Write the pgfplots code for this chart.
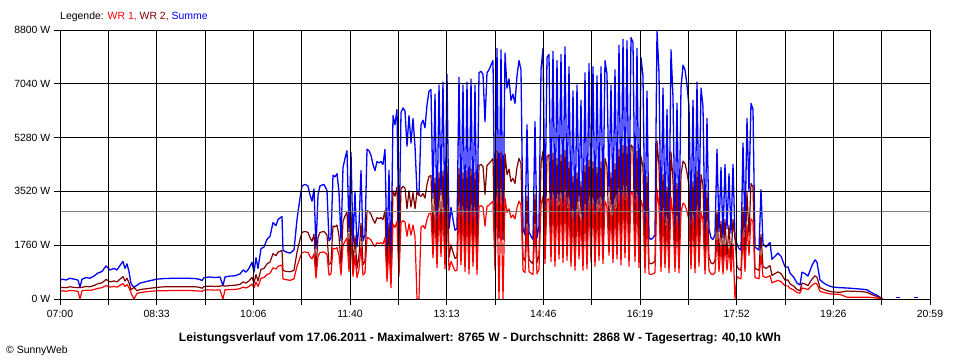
\documentclass[border=0pt]{standalone}
\usepackage{fontspec}
\setmainfont{Liberation Sans}
\usepackage{pgfplots}
\pgfplotsset{compat=1.18}
\usepackage{pgfplotstable}
\definecolor{wrone}{RGB}{255,0,0}
\definecolor{wrtwo}{RGB}{128,0,0}
\definecolor{wrsum}{RGB}{0,0,255}
\definecolor{avg}{RGB}{128,128,128}

% t = time position (axis units, 07:00 = 60, 20:59 = 930), power in W
\pgfplotstableread{
t wr1 wr2 sum
60 250 370 620
63 270 380 650
66 250 370 620
70 280 400 680
74 270 380 650
78 250 370 620
80 0 380 380
82 270 380 650
86 290 410 700
90 280 400 680
94 310 440 750
98 350 500 850
102 370 530 900
106 440 640 1080
110 390 560 950
114 410 590 1000
117 390 560 950
120 450 650 1100
123 500 730 1230
125 410 590 1000
127 470 680 1150
129 370 530 900
131 200 300 500
134 0 380 380
137 180 270 450
140 210 310 520
145 230 330 560
150 250 350 600
157 270 380 650
165 270 400 670
175 280 400 680
185 280 400 680
195 270 400 670
200 260 380 640
202 250 350 600
204 290 410 700
210 300 420 720
215 290 410 700
220 300 420 720
223 0 440 440
225 300 420 720
230 310 440 750
235 310 450 760
240 340 480 820
243 390 560 950
246 360 520 880
249 410 590 1000
252 490 710 1200
254 360 520 880
256 550 800 1350
258 410 590 1000
261 680 970 1650
264 700 1000 1700
267 800 1150 1950
270 840 1210 2050
273 1020 1480 2500
276 980 1420 2400
278 1070 1530 2600
280 1090 1560 2650
282 1110 1590 2700
283 660 940 1600
285 640 910 1550
290 610 890 1500
294 660 940 1600
297 1070 1530 2600
300 1350 1950 3300
302 1520 2180 3700
305 1540 2210 3750
308 1520 2180 3700
310 1390 2010 3400
312 1310 1890 3200
314 1480 2120 3600
316 680 970 1650
318 1390 2010 3400
320 1520 2180 3700
324 1540 2210 3750
327 1460 2090 3550
329 780 1120 1900
331 820 1180 2000
333 1660 2390 4050
335 1640 2360 4000
337 1680 2420 4100
339 1430 2070 3500
341 780 1120 1900
343 1760 2540 4300
345 1890 2710 4600
347 1990 2860 4850
349 900 1300 2200
351 1970 2830 4800
353 740 1060 1800
355 1430 2070 3500
357 700 1000 1700
359 980 1420 2400
361 1720 2480 4200
363 780 1120 1900
365 860 1240 2100
367 2010 2890 4900
369 1990 2860 4850
371 1930 2770 4700
373 1800 2600 4400
375 1720 2480 4200
377 1840 2660 4500
379 1820 2630 4450
381 1840 2660 4500
383 1800 2600 4400
385 2010 2890 4900
387 570 830 1400
389 1720 2480 4200
391 370 530 900
393 2460 3540 6000
395 2340 3360 5700
397 2540 3660 6200
399 740 1060 1800
401 2500 3600 6100
403 2560 3690 6250
405 2520 3630 6150
407 2050 2950 5000
409 2460 3540 6000
411 2090 3010 5100
413 2420 3480 5900
415 2050 2950 5000
417 0 3500 3500
419 0 3400 3400
421 2340 3360 5700
423 2400 3450 5850
425 2300 3300 5600
427 2600 3750 6350
429 2790 4010 6800
431 2810 4040 6850
433 1350 1950 3300
435 2750 3950 6700
437 1020 1480 2500
439 2870 4130 7000
441 1390 2010 3400
443 2910 4190 7100
445 980 1420 2400
447 3010 4340 7350
449 940 1360 2300
451 1230 1770 3000
453 1070 1530 2600
455 920 1330 2250
457 940 1360 2300
459 2970 4280 7250
461 1110 1590 2700
463 2870 4130 7000
465 900 1300 2200
467 2910 4190 7100
469 820 1180 2000
471 2950 4250 7200
473 1070 1530 2600
475 2870 4130 7000
477 800 1150 1950
479 3030 4370 7400
481 3050 4400 7450
483 3010 4340 7350
485 2380 3420 5800
487 3030 4370 7400
489 3070 4430 7500
491 3140 4510 7650
493 3200 4600 7800
495 940 1360 2300
497 3360 4840 8200
499 0 2000 2000
501 3340 4810 8150
503 0 1950 1950
505 3300 4750 8050
507 2830 4070 6900
509 2950 4250 7200
511 2660 3840 6500
513 2750 3950 6700
515 2620 3780 6400
517 2990 4310 7300
519 3200 4600 7800
521 3070 4430 7500
523 940 1360 2300
525 860 1240 2100
527 2340 3360 5700
529 900 1300 2200
531 840 1210 2050
533 800 1150 1950
535 2380 3420 5800
537 820 1180 2000
539 980 1420 2400
541 3070 4430 7500
543 3360 4840 8200
545 1150 1650 2800
547 3240 4660 7900
549 3280 4720 8000
551 1230 1770 3000
553 3320 4780 8100
555 1070 1530 2600
557 3200 4600 7800
559 1310 1890 3200
561 3280 4720 8000
563 1190 1710 2900
565 3380 4870 8250
567 1270 1830 3100
569 3120 4480 7600
571 1070 1530 2600
573 2790 4010 6800
575 940 1360 2300
577 2870 4130 7000
579 1310 1890 3200
581 2660 3840 6500
583 940 1360 2300
585 3030 4370 7400
587 980 1420 2400
589 3160 4540 7700
591 1230 1770 3000
593 3120 4480 7600
595 1070 1530 2600
597 2990 4310 7300
599 1270 1830 3100
601 3120 4480 7600
603 1150 1650 2800
605 3200 4600 7800
607 3010 4340 7350
609 1430 2070 3500
611 2870 4130 7000
613 1190 1710 2900
615 3070 4430 7500
617 1310 1890 3200
619 3400 4900 8300
621 1110 1590 2700
623 3480 5020 8500
625 1350 1950 3300
627 3460 4990 8450
629 1070 1530 2600
631 3510 5040 8550
633 3440 4960 8400
635 1230 1770 3000
637 3360 4840 8200
639 1020 1480 2500
641 3240 4660 7900
643 2990 4310 7300
645 860 1240 2100
647 2790 4010 6800
649 820 1180 2000
651 800 1150 1950
653 820 1180 2000
655 860 1240 2100
657 3600 5170 8765
659 3030 4370 7400
661 900 1300 2200
663 2830 4070 6900
665 1020 1480 2500
667 2540 3660 6200
669 860 1240 2100
671 3340 4810 8150
673 2710 3890 6600
675 900 1300 2200
677 2620 3780 6400
679 860 1240 2100
681 2830 4070 6900
683 3140 4510 7650
685 3070 4430 7500
687 2870 4130 7000
689 2580 3720 6300
691 980 1420 2400
693 2660 3840 6500
695 860 1240 2100
697 2910 4190 7100
699 1070 1530 2600
701 2830 4070 6900
703 2580 3720 6300
705 820 1180 2000
707 2420 3480 5900
709 940 1360 2300
711 820 1180 2000
713 800 1150 1950
715 860 1240 2100
717 2010 2890 4900
719 900 1300 2200
721 1760 2540 4300
723 820 1180 2000
725 1800 2600 4400
727 940 1360 2300
729 1680 2420 4100
731 880 1270 2150
733 1800 2600 4400
735 0 2000 2000
737 740 1060 1800
739 680 970 1650
741 660 940 1600
743 2090 3010 5100
745 900 1300 2200
747 2420 3480 5900
749 1430 2070 3500
751 2620 3780 6400
753 2540 3660 6200
755 700 1000 1700
757 680 970 1650
759 660 940 1600
761 1460 2110 3570
763 740 1060 1800
766 700 1000 1700
770 760 1090 1850
772 530 770 1300
775 570 830 1400
778 610 890 1500
781 570 830 1400
785 430 620 1050
788 430 620 1050
790 350 500 850
794 290 410 700
797 210 310 520
800 190 270 460
802 360 520 880
805 340 490 830
808 310 440 750
812 450 650 1100
815 520 760 1280
817 490 710 1200
820 250 370 620
824 210 310 520
827 190 270 460
830 170 250 420
833 160 230 390
840 150 220 370
847 60 260 360
855 60 250 340
862 60 240 320
867 60 220 300
872 50 140 200
877 30 80 120
880 20 40 60
883 0 0 0
}\data

\begin{document}
\fontsize{10.5}{12}\selectfont
\begin{tikzpicture}
\useasboundingbox (0,0) rectangle (960bp,360bp);
\begin{axis}[
  at={(60bp,61bp)}, anchor=south west,
  width=870bp, height=269bp, scale only axis,
  xmin=60, xmax=930, ymin=0, ymax=8800,
  xtick={60,156.667,253.333,350,446.667,543.333,640,736.667,833.333,930},
  xticklabels={07:00,08:33,10:06,11:40,13:13,14:46,16:19,17:52,19:26,20:59},
  minor xtick={108.333,205,301.667,398.333,495,591.667,688.333,785,881.667},
  ytick={0,1760,3520,5280,7040,8800},
  yticklabels={0 W,1760 W,3520 W,5280 W,7040 W,8800 W},
  grid=both,
  major grid style={black, line width=0.8bp},
  minor grid style={black, line width=0.8bp},
  axis line style={black, line width=0.8bp},
  tick style={black, line width=0.8bp},
  tick align=outside,
  major tick length=6bp, minor tick length=6bp,
  tick pos=left,
  axis on top,
  ticklabel style={font=\fontsize{10.5}{12}\selectfont},
  x tick label style={yshift=-2bp},
  /pgf/number format/assume math mode=true,
]
\addplot[sharp plot, wrsum, line width=1.3bp, line join=round] table[x=t, y=sum] {\data};
\addplot[sharp plot, wrtwo, line width=1.2bp, line join=round] table[x=t, y=wr2] {\data};
\addplot[sharp plot, wrone, line width=1.2bp, line join=round] table[x=t, y=wr1] {\data};
\addplot[wrsum, line width=1bp] coordinates {(896,40) (900,40)};
\addplot[wrsum, line width=1bp] coordinates {(914,40) (918,40)};
\addplot[avg, line width=1bp] coordinates {(60,2868) (930,2868)};
\end{axis}
\node[anchor=base west, inner sep=0] at (60bp,340bp) {Legende: \textcolor{wrone}{WR 1,} \textcolor{wrtwo}{WR 2,} \textcolor{wrsum}{Summe}};
\node[anchor=base, inner sep=0] at (480bp,18.5bp) {\fontsize{12.1}{14}\selectfont\bfseries Leistungsverlauf vom 17.06.2011 - Maximalwert: 8765 W - Durchschnitt: 2868 W - Tagesertrag: 40,10 kWh};
\node[anchor=base west, inner sep=0] at (6bp,7bp) {© SunnyWeb};
\end{tikzpicture}
\end{document}
